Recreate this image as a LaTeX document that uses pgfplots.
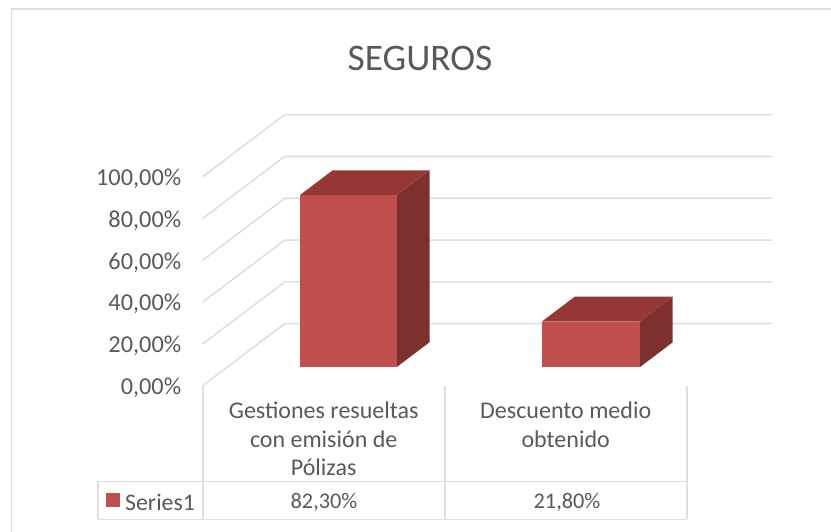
\documentclass[border=0pt]{standalone}
\usepackage{pgfplots}
\pgfplotsset{compat=1.18}
\usepackage{fontspec}
\setmainfont{Carlito}
\definecolor{txt}{HTML}{595959}
\definecolor{gridc}{HTML}{DEDEDE}
\definecolor{barfront}{HTML}{C0504D}
\definecolor{bartop}{HTML}{953735}
\definecolor{barside}{HTML}{7D302E}
\begin{document}
\begin{tikzpicture}[x=1pt,y=1pt]
% page = 831x532, y counted from the bottom
\useasboundingbox (0,0) rectangle (831,532);
\draw[gridc,line width=1.6pt] (11.5,0) -- (11.5,523) -- (831,523);
\begin{axis}[
  anchor=south west, at={(202.7pt,146.3pt)},
  x={(242pt,0pt)}, y={(82pt,62pt)}, z={(0pt,2.09pt)},
  xmin=0, xmax=2.015, ymin=0, ymax=1, zmin=0, zmax=100,
  clip=false,
  axis line style={draw=none},
  major tick style={draw=none},
  xtick={0.5,1.5},
  xticklabels={Gestiones resueltas\\con emisión de\\Pólizas, Descuento medio\\obtenido},
  ytick=\empty,
  ztick={0,20,40,60,80,100},
  zticklabel={\pgfmathprintnumber[fixed,fixed zerofill,precision=2,use comma,assume math mode=true]{\tick}\%},
  xticklabel pos=left, zticklabel pos=left,
  x tick label style={font=\fontsize{24}{28.5}\selectfont,text=txt,align=center,anchor=north,yshift=-13pt},
  z tick label style={font=\fontsize{24.3}{26}\selectfont,text=txt,anchor=east,xshift=-18pt,yshift=-2pt},
]
% gridlines on the two walls
\pgfplotsinvokeforeach{0,20,40,60,80,100}{
  \addplot3[gridc,line width=1.6pt,no marks] coordinates {(0,0,#1) (0,1,#1) (2.015,1,#1)};
}
% bar 1
\addplot3[fill=barside,draw=none] coordinates {(0.70,0.30,0) (0.70,0.70,0) (0.70,0.70,82.3) (0.70,0.30,82.3)};
\addplot3[fill=bartop,draw=none] coordinates {(0.30,0.30,82.3) (0.30,0.70,82.3) (0.70,0.70,82.3) (0.70,0.30,82.3)};
\addplot3[fill=barfront,draw=none] coordinates {(0.30,0.30,0) (0.70,0.30,0) (0.70,0.30,82.3) (0.30,0.30,82.3)};
% bar 2
\addplot3[fill=barside,draw=none] coordinates {(1.705,0.30,0) (1.705,0.70,0) (1.705,0.70,21.8) (1.705,0.30,21.8)};
\addplot3[fill=bartop,draw=none] coordinates {(1.30,0.30,21.8) (1.30,0.70,21.8) (1.705,0.70,21.8) (1.705,0.30,21.8)};
\addplot3[fill=barfront,draw=none] coordinates {(1.30,0.30,0) (1.705,0.30,0) (1.705,0.30,21.8) (1.30,0.30,21.8)};
\end{axis}
% data table under the plot
\draw[gridc,line width=1.6pt] (98,50.5) -- (687,50.5) (98,12.5) -- (687,12.5) (98,12.5) -- (98,50.5)
  (203,12.5) -- (203,146) (445,12.5) -- (445,146) (687,12.5) -- (687,146);
\fill[barfront] (106,25) rectangle (120,39);
\node[text=txt,font=\fontsize{23.8}{26}\selectfont,anchor=west,inner sep=0pt] at (125,30) {Series1};
\node[text=txt,font=\fontsize{22.3}{26}\selectfont] at (324,29.5) {82,30\%};
\node[text=txt,font=\fontsize{22.3}{26}\selectfont] at (567,29.5) {21,80\%};
\node[text=txt,font=\fontsize{37.5}{40}\selectfont] at (420,474) {SEGUROS};
\end{tikzpicture}
\end{document}
